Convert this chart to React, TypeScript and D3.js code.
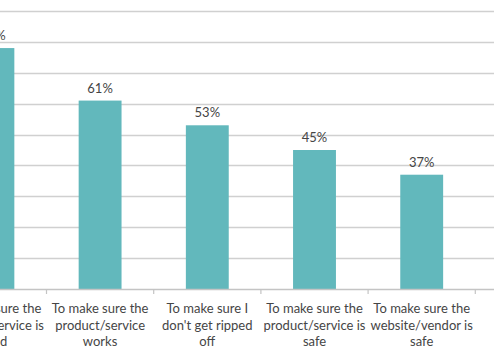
import React from "react";
import * as d3 from "d3";

const categories: string[][] = [
  ["To make sure the", "product/service is", "good"],
  ["To make sure the", "product/service", "works"],
  ["To make sure I", "don't get ripped", "off"],
  ["To make sure the", "product/service is", "safe"],
  ["To make sure the", "website/vendor is", "safe"],
];
const values: number[] = [78, 61, 53, 45, 37];
const yTicks: number[] = [0, 10, 20, 30, 40, 50, 60, 70, 80, 90];

const W = 495;
const H = 360;
const plotLeft = -60.7;
const plotRight = 475.3;
const gridRight = 494;
const y0 = 289;
const yTop = 11;
const FONT = "Lato, 'Open Sans', sans-serif";

export default function App() {
  const x = d3
    .scaleBand<number>()
    .domain(d3.range(values.length))
    .range([plotLeft, plotRight])
    .paddingInner(0.6)
    .paddingOuter(0.3);
  const step = x.step();
  const y = d3.scaleLinear().domain([0, 90]).range([y0, yTop]);
  const boundaries = d3.range(values.length + 1).map((i) => plotLeft + i * step);

  return (
    <svg
      width={W}
      height={H}
      style={{ position: "absolute", left: 0, top: 0, background: "#fff" }}
    >
      {yTicks.slice(1).map((t) => (
        <line
          key={t}
          x1={0}
          x2={gridRight}
          y1={Math.round(y(t)) + 0.5}
          y2={Math.round(y(t)) + 0.5}
          stroke="#d0d0d0"
          strokeWidth={1.3}
        />
      ))}
      {values.map((v, i) => (
        <rect
          key={i}
          x={x(i)!}
          y={y(v)}
          width={x.bandwidth()}
          height={y0 - y(v)}
          fill="#62b8bc"
        />
      ))}
      <line x1={0} x2={gridRight} y1={y0 + 0.5} y2={y0 + 0.5} stroke="#c4c4c4" strokeWidth={1.3} />
      {boundaries.map((b, i) => (
        <line key={i} x1={b} x2={b} y1={y0} y2={y0 + 5} stroke="#c4c4c4" strokeWidth={1.2} />
      ))}
      {values.map((v, i) => (
        <text
          key={i}
          x={x(i)! + x.bandwidth() / 2}
          y={y(v) - 8}
          textAnchor="middle"
          fontFamily={FONT}
          fontSize={13}
          fill="#454545"
        >
          {v}%
        </text>
      ))}
      {categories.map((lines, i) => (
        <text
          key={i}
          x={x(i)! + x.bandwidth() / 2}
          y={313}
          textAnchor="middle"
          fontFamily={FONT}
          fontSize={13}
          fill="#454545"
        >
          {lines.map((l, j) => (
            <tspan key={j} x={x(i)! + x.bandwidth() / 2} dy={j === 0 ? 0 : 16.7}>
              {l}
            </tspan>
          ))}
        </text>
      ))}
    </svg>
  );
}
